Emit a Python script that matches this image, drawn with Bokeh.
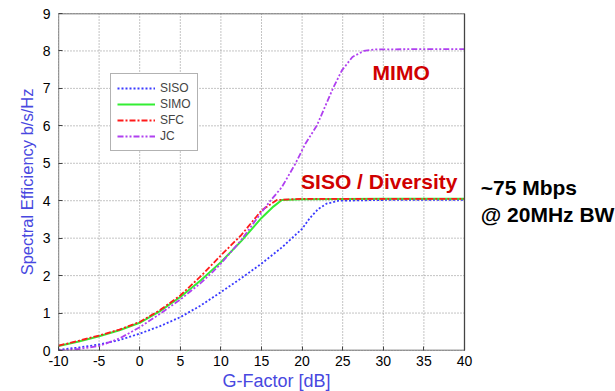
from bokeh.plotting import figure
from bokeh.models import Label, Legend, LegendItem, Range1d, FixedTicker, Title
from bokeh.embed import file_html
from bokeh.resources import INLINE

x_siso = [-10, -7.5, -5, -2.5, 0, 2.5, 5, 7.5, 10, 12.5, 15, 17.5, 20, 21, 22, 23, 24.5, 30, 35, 40]
y_siso = [0.02, 0.08, 0.16, 0.28, 0.45, 0.65, 0.89, 1.2, 1.56, 1.93, 2.32, 2.75, 3.25, 3.55, 3.78, 3.92, 4.0, 4.02, 4.02, 4.02]

x_simo = [-10, -7.5, -5, -2.5, 0, 2.5, 5, 7.5, 10, 12.5, 15, 16.5, 17.5, 20, 30, 40]
y_simo = [0.12, 0.24, 0.38, 0.54, 0.74, 1.05, 1.43, 1.87, 2.36, 2.92, 3.54, 3.85, 4.02, 4.04, 4.05, 4.05]

x_sfc = [-10, -7.5, -5, -2.5, 0, 2.5, 5, 7.5, 10, 12.5, 15, 16.9, 20, 30, 40]
y_sfc = [0.13, 0.26, 0.4, 0.56, 0.76, 1.08, 1.47, 1.98, 2.54, 3.08, 3.74, 4.02, 4.05, 4.05, 4.05]

x_jc = [-10, -7.5, -5, -2.5, 0, 2.5, 5, 7.5, 9, 10, 12.5, 15, 16.1, 17.5, 19.2, 20.4, 21.8, 23.8, 24.9, 26.2, 27.6, 29, 35, 40]
y_jc = [0.0, 0.04, 0.12, 0.32, 0.62, 0.98, 1.36, 1.8, 2.1, 2.32, 2.95, 3.69, 4.0, 4.36, 5.0, 5.52, 6.0, 7.0, 7.48, 7.84, 8.0, 8.04, 8.05, 8.05]

x_ticks = [-10, -5, 0, 5, 10, 15, 20, 25, 30, 35, 40]
x_tick_labels = ["-10", "-5", "0", "5", "10", "15", "20", "25", "30", "35", "40"]
y_ticks = [0, 1, 2, 3, 4, 5, 6, 7, 8, 9]

X_MIN, X_MAX, Y_MIN, Y_MAX = -10, 40, 0, 9
# the frame is widened to the right edge so the side notes can be drawn inside it;
# the chart box itself (grid + border) is drawn from the tick arrays.
frame_w_box = 406
frame_w = 557
x_view_max = X_MIN + (X_MAX - X_MIN) * frame_w / frame_w_box

p = figure(width=615, height=391, output_backend="svg", toolbar_location=None,
           x_range=Range1d(X_MIN, x_view_max), y_range=Range1d(Y_MIN, Y_MAX),
           min_border_left=58, min_border_right=0, min_border_top=13, min_border_bottom=41)
p.frame_width = frame_w
p.frame_height = 337

p.outline_line_color = None
p.background_fill_color = "white"
p.xgrid.visible = False
p.ygrid.visible = False

for ax in (p.xaxis[0], p.yaxis[0]):
    ax.axis_line_color = None
    ax.major_tick_in = 4
    ax.major_tick_out = 0
    ax.minor_tick_line_color = None
    ax.major_tick_line_color = "#444444"
    ax.major_label_text_font = "Liberation Sans"
    ax.major_label_text_font_size = "14px"
    ax.major_label_text_color = "black"
    ax.axis_label_text_font = "Liberation Sans"
    ax.axis_label_text_font_style = "normal"
    ax.axis_label_text_color = "#4848e0"

p.xaxis.ticker = FixedTicker(ticks=x_ticks)
p.xaxis.major_label_overrides = {t: s for t, s in zip(x_ticks, x_tick_labels)}
p.yaxis.ticker = FixedTicker(ticks=y_ticks)
p.yaxis.axis_label = "Spectral Efficiency b/s/Hz"
p.yaxis.axis_label_text_font_size = "16.5px"
p.xaxis.major_label_standoff = 5
p.yaxis.major_label_standoff = 8
p.yaxis.axis_label_standoff = 4

# x-axis title, placed under the chart box (not centred on the widened frame)
p.add_layout(Title(text="G-Factor [dB]", align="left", offset=164, standoff=0,
                   text_font="Liberation Sans", text_font_style="normal", text_font_size="18px",
                   text_color="#4848e0"), "below")

# grid
p.segment(x0=x_ticks, x1=x_ticks, y0=[Y_MIN] * len(x_ticks), y1=[Y_MAX] * len(x_ticks),
          line_color="#888888", line_width=1, line_dash="1 2")
p.segment(x0=[X_MIN] * len(y_ticks), x1=[X_MAX] * len(y_ticks), y0=y_ticks, y1=y_ticks,
          line_color="#888888", line_width=1, line_dash="1 2")

r_siso = p.line(x_siso, y_siso, line_color="#3a3aff", line_width=1.8, line_dash="2 2")
r_simo = p.line(x_simo, y_simo, line_color="#33ee33", line_width=2)
r_sfc = p.line(x_sfc, y_sfc, line_color="#ff1a1a", line_width=1.8, line_dash="6 2 2 2")
r_jc = p.line(x_jc, y_jc, line_color="#b040f0", line_width=1.8, line_dash="6 2 2 2 2 2")

# chart border
p.quad(left=[X_MIN], right=[X_MAX], bottom=[Y_MIN], top=[Y_MAX], fill_color=None,
       line_color="#444444", line_width=1.3)

legend = Legend(items=[LegendItem(label="SISO", renderers=[r_siso]),
                       LegendItem(label="SIMO", renderers=[r_simo]),
                       LegendItem(label="SFC", renderers=[r_sfc]),
                       LegendItem(label="JC", renderers=[r_jc])],
                location=(52, 199))
legend.margin = 0
legend.label_text_font = "Liberation Sans"
legend.label_text_font_size = "12px"
legend.spacing = 0
legend.padding = 6
legend.glyph_width = 38
legend.glyph_height = 16
legend.label_height = 16
legend.label_standoff = 5
legend.border_line_color = "#666666"
legend.border_line_width = 1.5
legend.background_fill_alpha = 1
p.add_layout(legend)

p.add_layout(Label(x=32.2, y=7.42, text="MIMO", text_color="#d00000", text_font="Liberation Sans",
                   text_font_style="bold", text_font_size="21px", text_align="center", text_baseline="middle"))
p.add_layout(Label(x=29.5, y=4.51, text="SISO / Diversity", text_color="#d00000", text_font="Liberation Sans",
                   text_font_style="bold", text_font_size="21px", text_align="center", text_baseline="middle"))
p.add_layout(Label(x=42.0, y=4.36, text="~75 Mbps", text_color="black", text_font="Liberation Sans",
                   text_font_style="bold", text_font_size="21px", text_align="left", text_baseline="middle"))
p.add_layout(Label(x=42.0, y=3.64, text="@ 20MHz BW", text_color="black", text_font="Liberation Sans",
                   text_font_style="bold", text_font_size="21px", text_align="left", text_baseline="middle"))

open("out.html", "w").write(file_html(p, INLINE))
